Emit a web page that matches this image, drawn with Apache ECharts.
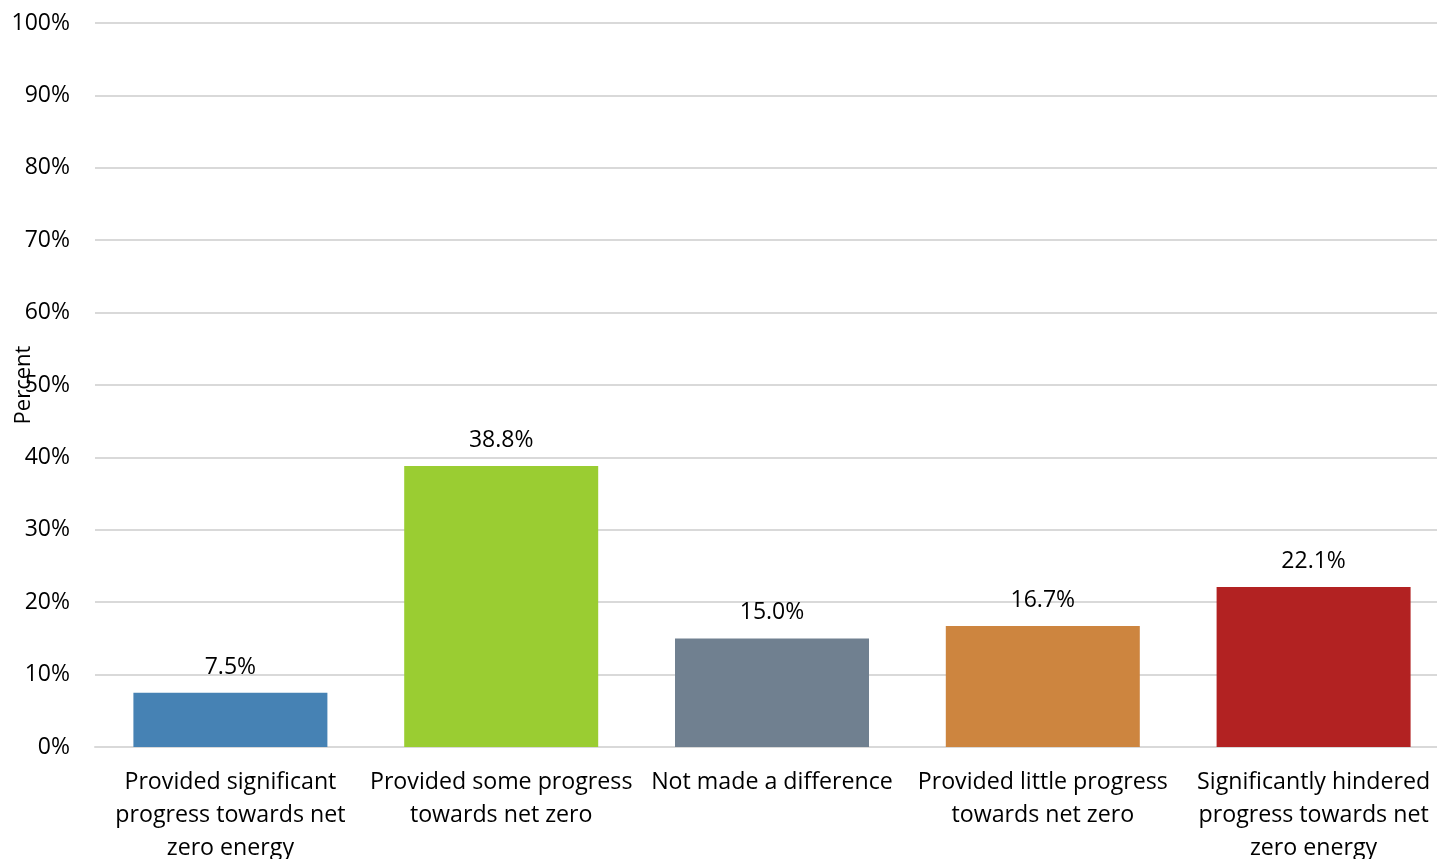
<!DOCTYPE html>
<html>
<head>
<meta charset="utf-8">
<script src="https://cdn.jsdelivr.net/npm/echarts@6/dist/echarts.min.js"></script>
<style>html,body{margin:0;padding:0;background:#fff}#c{width:1437px;height:859px}</style>
</head>
<body>
<div id="c"></div>
<script>
const categories = [
  "Provided significant\nprogress towards net\nzero energy",
  "Provided some progress\ntowards net zero",
  "Not made a difference",
  "Provided little progress\ntowards net zero",
  "Significantly hindered\nprogress towards net\nzero energy"
];
const values = [7.5, 38.8, 15.0, 16.7, 22.1];
const colors = ["#4682B4", "#9ACD32", "#708090", "#CD853F", "#B22222"];
const yTicks = [0, 10, 20, 30, 40, 50, 60, 70, 80, 90, 100];

const font = "'Open Sans', sans-serif";
const chart = echarts.init(document.getElementById('c'));
chart.setOption({
  animation: false,
  grid: {left: 95, right: -12, top: 23, bottom: 112, containLabel: false, outerBoundsMode: 'none'},
  xAxis: {
    type: 'category',
    data: categories,
    axisTick: {show: false},
    axisLine: {lineStyle: {color: '#d9d9d9', width: 2}},
    axisLabel: {color: '#000', fontFamily: font, fontSize: 23.2, lineHeight: 33, margin: 19, interval: 0}
  },
  yAxis: {
    type: 'value',
    min: 0, max: 100, interval: 10,
    name: 'Percent',
    nameLocation: 'middle',
    nameRotate: 90,
    nameGap: 60,
    nameMoveOverlap: false,
    nameTextStyle: {color: '#000', fontFamily: font, fontSize: 22},
    axisLabel: {color: '#000', fontFamily: font, fontSize: 23, margin: 25, formatter: v => v + '%'},
    splitLine: {lineStyle: {color: '#d9d9d9', width: 2}},
    axisLine: {show: false},
    axisTick: {show: false}
  },
  series: [{
    type: 'bar',
    barWidth: 194,
    data: values.map((v, i) => ({value: v, itemStyle: {color: colors[i]}})),
    label: {show: true, position: 'top', distance: 14, color: '#000', fontFamily: font, fontSize: 23,
      formatter: p => p.value.toFixed(1) + '%'}
  }]
});
</script>
</body>
</html>
